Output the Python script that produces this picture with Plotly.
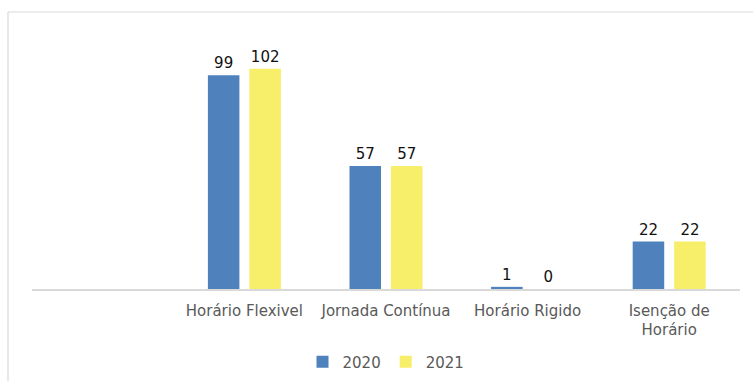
import plotly.graph_objects as go

# Tipos de horário de trabalho, por ano
categorias = ["Horário Flexivel", "Jornada Contínua", "Horário Rigido", "Isenção de<br>Horário"]
valores_2020 = [99, 57, 1, 22]
valores_2021 = [102, 57, 0, 22]
anos = ["2020", "2021"]

cor_2020 = "#4F81BD"
cor_2021 = "#F7EE6A"
fonte = "DejaVu Sans"

fig = go.Figure()
for nome, valores, cor in [(anos[0], valores_2020, cor_2020), (anos[1], valores_2021, cor_2021)]:
    fig.add_trace(go.Bar(
        x=categorias, y=valores, name=nome,
        marker=dict(color=cor, line=dict(width=0)),
        text=[str(v) for v in valores], textposition="outside",
        textfont=dict(family=fonte, size=15, color="#111111"),
        cliponaxis=False,
    ))

W, H = 753, 381
L, R, T, B = 32, 13, 30, 92
pw, ph = W - L - R, H - T - B

def px_x(x):
    return (x - L) / pw

def px_y(y):
    return (H - B - y) / ph

grey = "#D9D9D9"
fig.update_layout(
    width=W, height=H,
    margin=dict(l=L, r=R, t=T, b=B, autoexpand=False),
    paper_bgcolor="white", plot_bgcolor="white",
    barmode="group", bargap=0.414, bargroupgap=0.24,
    font=dict(family=fonte, size=15, color="#595959"),
    xaxis=dict(
        type="category", range=[-1.5, 3.5],
        showline=True, linecolor=grey, linewidth=1.5,
        showgrid=False, ticks="", zeroline=False,
        ticklabelstandoff=7,
        tickfont=dict(family=fonte, size=15, color="#595959"),
    ),
    yaxis=dict(range=[0, 120], visible=False, showgrid=False, zeroline=False),
    legend=dict(
        orientation="h", x=0.5, xanchor="center", y=px_y(362), yanchor="middle",
        font=dict(family=fonte, size=15, color="#595959"),
        itemwidth=30, traceorder="normal",
    ),
    showlegend=True,
    shapes=[
        dict(type="line", xref="paper", yref="paper",
             x0=px_x(8), x1=px_x(W + 5), y0=px_y(12), y1=px_y(12),
             line=dict(color=grey, width=1.2)),
        dict(type="line", xref="paper", yref="paper",
             x0=px_x(8), x1=px_x(8), y0=px_y(12), y1=px_y(H + 5),
             line=dict(color=grey, width=1.2)),
    ],
)

fig.write_html("out.html")
